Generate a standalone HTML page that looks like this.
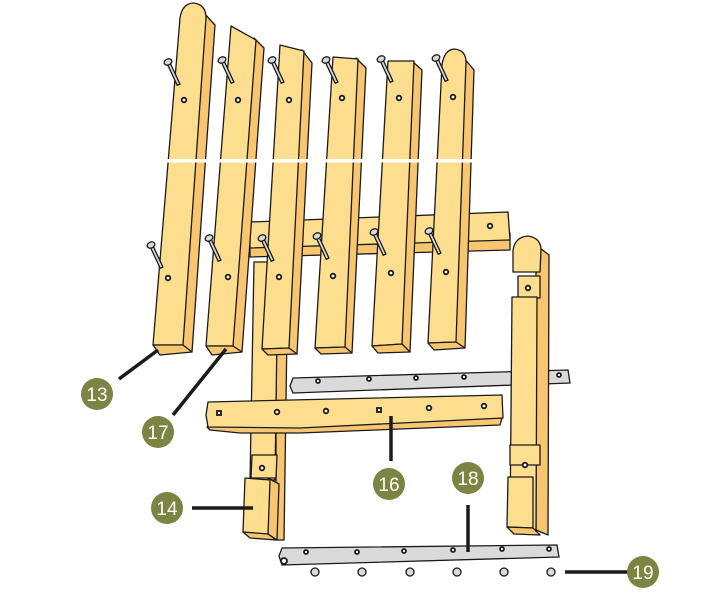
<!DOCTYPE html>
<html><head><meta charset="utf-8"><style>
html,body{margin:0;padding:0;background:#fff;}
svg{display:block}
.w{fill:#FDDE8E;stroke:#1a1a1a;stroke-width:1.3;stroke-linejoin:round}
.s{fill:#F8C670;stroke:#1a1a1a;stroke-width:1.3;stroke-linejoin:round}
.m{fill:#DADADA;stroke:#1a1a1a;stroke-width:1.3}
.h{fill:#fff;stroke:#1a1a1a;stroke-width:1.8}
.l{stroke:#1a1a1a;stroke-width:3.5}
.b{fill:#7B8443}
.t{fill:#fff;font-family:"Liberation Sans",sans-serif;font-size:19px;text-anchor:middle}
</style></head><body>
<svg width="706" height="600" viewBox="0 0 706 600" xmlns="http://www.w3.org/2000/svg">
<!-- back crossbar -->
<polygon class="s" points="250,240 510,233 510,250 250,257"/>
<polygon class="w" points="250,222 508,212 510,240 250,248"/>
<circle class="h" cx="490" cy="226" r="2.3"/>
<!-- left leg -->
<polygon class="s" points="276,262 288,262 284,540 276,540"/>
<polygon class="w" points="254,262 278,262 275,480 250,480"/>
<polygon class="w" points="252,455 277,455 276,478 251,478"/>
<circle class="h" cx="262" cy="468" r="2.3"/>
<polygon class="s" points="268,478 279,484 277,540 268,534"/>
<polygon class="w" points="245,478 270,480 268,535 243,532"/>
<polygon class="s" points="243,532 268,534 276,540 250,538"/>
<!-- top metal bar (behind right leg) -->
<polygon class="m" points="293,378 568,370 570,383 293,393 290,386"/>
<g class="h"><circle cx="318" cy="381" r="2"/><circle cx="369" cy="379" r="2"/><circle cx="416" cy="378" r="2"/><circle cx="464" cy="377" r="2"/><circle cx="559" cy="375" r="2"/></g>
<!-- right leg -->
<polygon class="s" points="536,245 549,255 548,535 536,530"/>
<path class="w" d="M513,272 L513,250 Q515,237 528,236 Q541,238 541,250 L540,272 Z"/>
<polygon class="w" points="518,276 540,276 540,298 518,298"/>
<circle class="h" cx="528" cy="288" r="2.3"/>
<polygon class="w" points="512,297 537,297 536,530 510,528"/>
<polygon class="w" points="510,445 540,445 540,465 510,465"/>
<circle class="h" cx="525" cy="465" r="2.3"/>
<polygon class="w" points="508,477 533,477 533,528 507,527"/>
<polygon class="s" points="507,527 533,528 540,535 514,534"/>
<!-- front rail 16 -->
<polygon class="s" points="207,427 502,418 500,425 300,433 240,433 210,430"/>
<polygon class="w" points="208,402 502,395 503,418 300,428 208,427 206,415"/>
<g class="h"><rect x="217" y="411" width="4" height="4"/><circle cx="277" cy="412" r="2.3"/><circle cx="326" cy="411" r="2.3"/><rect x="377" y="408" width="4" height="4"/><circle cx="429" cy="408" r="2.3"/><circle cx="484" cy="406" r="2.3"/></g>
<!-- slats -->
<g>
<polygon class="s" points="203,12 215,25 192,352 181,345"/>
<path class="w" d="M180,18 Q182,4 193,3 Q206,4 206,18 L183,345 L153,345 Z"/>
<polygon class="s" points="153,345 183,345 192,352 160,355"/>
<polygon class="s" points="254,38 264,48 242,352 231,346"/>
<polygon class="w" points="231,26 256,40 233,346 206,346"/>
<polygon class="s" points="206,346 233,346 242,352 212,355"/>
<polygon class="s" points="302,50 312,63 297,354 287,348"/>
<polygon class="w" points="280,45 304,51 289,348 262,349"/>
<polygon class="s" points="262,349 289,348 297,354 268,355"/>
<polygon class="s" points="356,58 366,68 352,353 343,347"/>
<polygon class="w" points="333,57 358,59 345,347 315,348"/>
<polygon class="s" points="315,348 345,347 352,353 321,354"/>
<polygon class="s" points="412,61 422,70 410,352 400,344"/>
<polygon class="w" points="388,61 414,61 402,344 372,346"/>
<polygon class="s" points="372,346 402,344 410,352 378,353"/>
<polygon class="s" points="464,58 474,70 465,348 454,342"/>
<path class="w" d="M442,65 Q444,50 454,49 Q466,50 466,62 L456,342 L428,343 Z"/>
<polygon class="s" points="428,343 456,342 465,348 434,350"/>
</g>
<rect x="150" y="159" width="325" height="3.5" fill="#fff"/>
<!-- nails -->
<g>
<g transform="translate(168,62) rotate(-25)"><rect x="-1.5" y="0" width="3" height="25" class="m"/><ellipse cx="0" cy="0" rx="4" ry="3" class="m"/></g>
<g transform="translate(222,60) rotate(-25)"><rect x="-1.5" y="0" width="3" height="25" class="m"/><ellipse cx="0" cy="0" rx="4" ry="3" class="m"/></g>
<g transform="translate(272,60) rotate(-25)"><rect x="-1.5" y="0" width="3" height="25" class="m"/><ellipse cx="0" cy="0" rx="4" ry="3" class="m"/></g>
<g transform="translate(326,60) rotate(-25)"><rect x="-1.5" y="0" width="3" height="25" class="m"/><ellipse cx="0" cy="0" rx="4" ry="3" class="m"/></g>
<g transform="translate(381,59) rotate(-25)"><rect x="-1.5" y="0" width="3" height="25" class="m"/><ellipse cx="0" cy="0" rx="4" ry="3" class="m"/></g>
<g transform="translate(436,58) rotate(-25)"><rect x="-1.5" y="0" width="3" height="25" class="m"/><ellipse cx="0" cy="0" rx="4" ry="3" class="m"/></g>
<g transform="translate(151,245) rotate(-25)"><rect x="-1.5" y="0" width="3" height="25" class="m"/><ellipse cx="0" cy="0" rx="4" ry="3" class="m"/></g>
<g transform="translate(209,238) rotate(-25)"><rect x="-1.5" y="0" width="3" height="25" class="m"/><ellipse cx="0" cy="0" rx="4" ry="3" class="m"/></g>
<g transform="translate(262,238) rotate(-25)"><rect x="-1.5" y="0" width="3" height="25" class="m"/><ellipse cx="0" cy="0" rx="4" ry="3" class="m"/></g>
<g transform="translate(317,236) rotate(-25)"><rect x="-1.5" y="0" width="3" height="25" class="m"/><ellipse cx="0" cy="0" rx="4" ry="3" class="m"/></g>
<g transform="translate(374,232) rotate(-25)"><rect x="-1.5" y="0" width="3" height="25" class="m"/><ellipse cx="0" cy="0" rx="4" ry="3" class="m"/></g>
<g transform="translate(429,231) rotate(-25)"><rect x="-1.5" y="0" width="3" height="25" class="m"/><ellipse cx="0" cy="0" rx="4" ry="3" class="m"/></g>
</g>
<g class="h">
<circle cx="184" cy="100" r="2.3"/><circle cx="238" cy="100" r="2.3"/><circle cx="289" cy="100" r="2.3"/><circle cx="342" cy="98" r="2.3"/><circle cx="399" cy="98" r="2.3"/><circle cx="453" cy="97" r="2.3"/>
<circle cx="168" cy="278" r="2.3"/><circle cx="228" cy="277" r="2.3"/><circle cx="279" cy="277" r="2.3"/><circle cx="333" cy="276" r="2.3"/><circle cx="391" cy="273" r="2.3"/><circle cx="446" cy="272" r="2.3"/>
</g>
<!-- bottom metal bar 18 -->
<polygon class="m" points="282,548 557,545 559,557 282,565 279,556"/>
<g class="h"><circle cx="284" cy="561" r="3"/><circle cx="306" cy="552" r="2"/><circle cx="357" cy="552" r="2"/><circle cx="404" cy="551" r="2"/><circle cx="453" cy="550" r="2"/><circle cx="502" cy="549" r="2"/><circle cx="549" cy="549" r="2"/></g>
<g class="m"><circle cx="315" cy="572" r="4"/><circle cx="362" cy="572" r="4"/><circle cx="410" cy="572" r="4"/><circle cx="457" cy="572" r="4"/><circle cx="504" cy="572" r="4"/><circle cx="551" cy="572" r="4"/></g>
<!-- leader lines -->
<line class="l" x1="119" y1="379" x2="158" y2="350"/>
<line class="l" x1="173" y1="415" x2="226" y2="349"/>
<line class="l" x1="192" y1="508" x2="253" y2="508"/>
<line class="l" x1="391" y1="416" x2="391" y2="461"/>
<line class="l" x1="468" y1="505" x2="468" y2="552"/>
<line class="l" x1="565" y1="572" x2="628" y2="572"/>
<!-- badges -->
<circle class="b" cx="97" cy="394" r="16"/><text class="t" x="97" y="401">13</text>
<circle class="b" cx="158" cy="432" r="16"/><text class="t" x="158" y="439">17</text>
<circle class="b" cx="167" cy="508" r="16"/><text class="t" x="167" y="515">14</text>
<circle class="b" cx="389" cy="484" r="16"/><text class="t" x="389" y="491">16</text>
<circle class="b" cx="468" cy="478" r="16"/><text class="t" x="468" y="485">18</text>
<circle class="b" cx="643" cy="572" r="16"/><text class="t" x="643" y="579">19</text>
</svg>
</body></html>
